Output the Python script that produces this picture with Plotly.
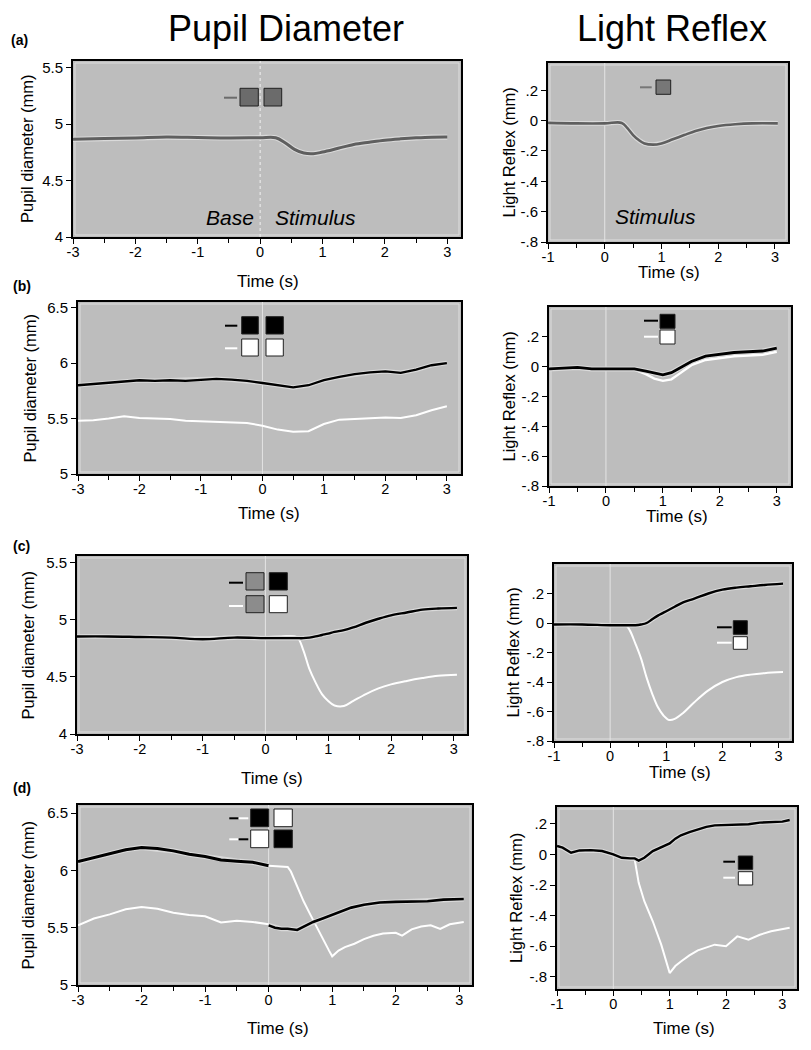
import plotly.graph_objects as go

W, H = 811, 1050
OFF = 8  # the exported page sits 8 px in from the window corner

# ---------------- data ----------------
# (a) single grey condition
a_pd_t = [-3, -2.5, -2, -1.5, -1, -0.5, 0, 0.25, 0.4, 0.55, 0.7, 0.85, 1.0, 1.25, 1.5, 1.75, 2.0, 2.25, 2.5, 2.75, 3.0]
a_pd = [4.866, 4.872, 4.878, 4.886, 4.882, 4.878, 4.88, 4.88, 4.836, 4.777, 4.744, 4.738, 4.753, 4.786, 4.82, 4.84, 4.858, 4.87, 4.879, 4.885, 4.886]
a_lr_t = [-1, -0.5, 0, 0.3, 0.4, 0.5, 0.6, 0.7, 0.85, 1.0, 1.2, 1.4, 1.6, 1.8, 2.0, 2.3, 2.6, 3.05]
a_lr = [-0.015, -0.018, -0.018, -0.015, -0.05, -0.095, -0.128, -0.15, -0.158, -0.15, -0.123, -0.095, -0.068, -0.048, -0.035, -0.024, -0.018, -0.018]

# (b) black vs white
b_pd_t = [-3, -2.75, -2.5, -2.25, -2, -1.75, -1.5, -1.25, -1, -0.75, -0.5, -0.25, 0,
          0.25, 0.5, 0.75, 1.0, 1.25, 1.5, 1.75, 2.0, 2.25, 2.5, 2.75, 3.0]
b_pd_black = [5.80, 5.81, 5.82, 5.83, 5.845, 5.84, 5.845, 5.84, 5.85, 5.858, 5.85, 5.84, 5.82,
              5.80, 5.78, 5.80, 5.845, 5.875, 5.90, 5.915, 5.925, 5.912, 5.94, 5.98, 6.0]
b_pd_white = [5.48, 5.485, 5.50, 5.52, 5.505, 5.50, 5.495, 5.48, 5.475, 5.468, 5.465, 5.46, 5.435,
              5.40, 5.38, 5.385, 5.45, 5.49, 5.495, 5.505, 5.51, 5.505, 5.53, 5.575, 5.61]
b_lr_t = [-1, -0.75, -0.5, -0.25, 0, 0.25, 0.5, 0.7, 0.85, 1.0, 1.15, 1.3, 1.5, 1.75, 2.0, 2.25, 2.5, 2.75, 3.0]
b_lr_black = [-0.015, -0.01, -0.005, -0.015, -0.015, -0.01, -0.015, -0.03, -0.045, -0.055, -0.04, -0.01,
              0.035, 0.07, 0.085, 0.095, 0.10, 0.105, 0.125]
b_lr_white = [-0.02, -0.015, -0.01, -0.02, -0.02, -0.015, -0.02, -0.05, -0.08, -0.095, -0.085, -0.045,
              0.01, 0.045, 0.06, 0.07, 0.075, 0.08, 0.10]

# (c) grey->black vs grey->white
c_pd_t = [-3, -2.5, -2, -1.5, -1, -0.5, 0, 0.25, 0.5, 0.6, 0.7, 0.8, 0.9, 1.0, 1.1, 1.25, 1.4,
          1.6, 1.8, 2.0, 2.25, 2.5, 2.75, 3.05]
c_pd_black = [4.855, 4.855, 4.85, 4.845, 4.83, 4.845, 4.84, 4.84, 4.84, 4.84, 4.845, 4.855, 4.868, 4.88,
              4.895, 4.91, 4.935, 4.975, 5.01, 5.04, 5.065, 5.09, 5.10, 5.105]
c_pd_white = [4.86, 4.86, 4.855, 4.85, 4.845, 4.855, 4.85, 4.855, 4.85, 4.74, 4.57, 4.45, 4.35, 4.29,
              4.25, 4.245, 4.29, 4.35, 4.40, 4.435, 4.465, 4.49, 4.51, 4.52]
c_lr_t = [-1, -0.5, 0, 0.28, 0.35, 0.45, 0.55, 0.65, 0.75, 0.85, 0.95, 1.05, 1.15, 1.3, 1.5, 1.75,
          2.0, 2.25, 2.5, 2.75, 3.08]
c_lr_black = [-0.01, -0.01, -0.015, -0.015, -0.015, -0.015, -0.01, 0.0, 0.025, 0.05, 0.07, 0.09, 0.11,
              0.14, 0.165, 0.2, 0.226, 0.24, 0.249, 0.258, 0.267]
c_lr_white = [-0.012, -0.012, -0.016, -0.016, -0.05, -0.14, -0.24, -0.37, -0.48, -0.57, -0.627, -0.657,
              -0.65, -0.61, -0.537, -0.457, -0.40, -0.367, -0.35, -0.34, -0.333]

# (d) black->white vs white->black
d_pd_pre_t = [-3, -2.75, -2.5, -2.25, -2, -1.75, -1.5, -1.25, -1, -0.75, -0.5, -0.25, 0]
d_pd_pre_black = [6.076, 6.11, 6.14, 6.18, 6.20, 6.19, 6.17, 6.14, 6.12, 6.09, 6.08, 6.07, 6.04]
d_pd_pre_white = [5.52, 5.58, 5.616, 5.66, 5.68, 5.665, 5.63, 5.61, 5.60, 5.545, 5.56, 5.55, 5.53]
d_pd_post_t_w = [0, 0.1, 0.2, 0.3, 0.35, 0.45, 0.55, 0.65, 0.75, 0.85, 0.95, 1.0, 1.1, 1.2, 1.35, 1.5,
                 1.65, 1.8, 2.0, 2.1, 2.25, 2.4, 2.55, 2.7, 2.85, 3.07]
d_pd_post_white = [6.04, 6.035, 6.035, 6.03, 5.99, 5.86, 5.73, 5.62, 5.51, 5.41, 5.30, 5.25, 5.30, 5.33,
                   5.36, 5.40, 5.43, 5.45, 5.455, 5.43, 5.485, 5.51, 5.52, 5.49, 5.53, 5.55]
d_pd_post_t_b = [0, 0.1, 0.2, 0.3, 0.45, 0.55, 0.7, 0.85, 1.0, 1.15, 1.3, 1.5, 1.75, 2.0, 2.25, 2.5, 2.75, 3.07]
d_pd_post_black = [5.52, 5.50, 5.49, 5.49, 5.48, 5.51, 5.55, 5.58, 5.61, 5.645, 5.675, 5.70, 5.72, 5.725,
                   5.73, 5.73, 5.745, 5.75]
d_lr_t = [-1, -0.9, -0.75, -0.6, -0.4, -0.2, 0, 0.15, 0.3, 0.38, 0.45, 0.55, 0.7, 0.85, 1.0, 1.1, 1.2,
          1.35, 1.5, 1.65, 1.8, 2.0, 2.2, 2.4, 2.6, 2.8, 3.0, 3.13]
d_lr_black = [0.055, 0.044, 0.011, 0.026, 0.028, 0.022, 0.0, -0.022, -0.026, -0.026, -0.04, -0.022, 0.022,
              0.048, 0.072, 0.103, 0.125, 0.146, 0.164, 0.18, 0.19, 0.192, 0.195, 0.197, 0.208, 0.212,
              0.214, 0.225]
d_lr_white = [0.048, 0.037, 0.004, 0.019, 0.021, 0.015, -0.008, -0.028, -0.032, -0.035, -0.186, -0.306,
              -0.437, -0.59, -0.776, -0.73, -0.70, -0.66, -0.627, -0.607, -0.59, -0.60, -0.536, -0.557,
              -0.525, -0.503, -0.49, -0.48]

# tick labels (plain hyphen minus as in the figure)
left_xticks = [-3, -2, -1, 0, 1, 2, 3]
left_xticktext = ["-3", "-2", "-1", "0", "1", "2", "3"]
right_xticks = [-1, 0, 1, 2, 3]
right_xticktext = ["-1", "0", "1", "2", "3"]
pd_ticks_low = [4, 4.5, 5, 5.5]
pd_ticks_high = [5, 5.5, 6, 6.5]
lr_ticks = [-0.8, -0.6, -0.4, -0.2, 0, 0.2]
lr_ticktext = ["-.8", "-.6", "-.4", "-.2", "0", ".2"]

# ---------------- layout of the eight panels (pixel boxes) ----------------
L = dict(xt=left_xticks, xtt=left_xticktext)
R = dict(xt=right_xticks, xtt=right_xticktext, yt=lr_ticks, ytt=lr_ticktext)
panels = [
    dict(box=(73, 61, 461, 237), xr=[-3, 3.22], yr=[4, 5.56], yt=pd_ticks_low, ytt=None, **L),
    dict(box=(548, 63, 788, 242), xr=[-1, 3.23], yr=[-0.8, 0.38], **R),
    dict(box=(78, 302, 461, 474), xr=[-3, 3.23], yr=[5, 6.55], yt=pd_ticks_high, ytt=None, **L),
    dict(box=(549, 307, 791, 486), xr=[-1, 3.25], yr=[-0.8, 0.4], **R),
    dict(box=(77, 556, 467, 734), xr=[-3, 3.21], yr=[4, 5.56], yt=pd_ticks_low, ytt=None, **L),
    dict(box=(554, 564, 792, 741), xr=[-1, 3.24], yr=[-0.8, 0.4], **R),
    dict(box=(78, 805, 472, 985), xr=[-3, 3.2], yr=[5, 6.57], yt=pd_ticks_high, ytt=None, **L),
    dict(box=(557, 807, 797, 989), xr=[-1, 3.26], yr=[-0.88, 0.31], **R),
]

FONT = "Liberation Sans, Arial, Helvetica, sans-serif"
BG = "#bdbdbd"
TICKFONT = dict(size=15, family=FONT, color="black")
XTICKFONT = dict(size=14.5, family=FONT, color="black")


def ax_names(i):
    n = "" if i == 0 else str(i + 1)
    return "x" + n, "y" + n


def px_x(x):
    return (x - OFF) / W


def px_y(y):
    return 1 - (y - OFF) / H


fig = go.Figure()


def add_line(i, t, v, color, width, halo=None, shape="linear"):
    xa, ya = ax_names(i)
    if halo:
        fig.add_trace(go.Scatter(x=t, y=v, mode="lines", xaxis=xa, yaxis=ya, hoverinfo="skip",
                                 line=dict(color=halo, width=width + 2.2, shape=shape)))
    fig.add_trace(go.Scatter(x=t, y=v, mode="lines", xaxis=xa, yaxis=ya,
                             line=dict(color=color, width=width, shape=shape)))


HALO = "#dadada"
add_line(0, a_pd_t, a_pd, "#5f5f5f", 3, HALO, "spline")
add_line(1, a_lr_t, a_lr, "#5f5f5f", 2.6, HALO, "spline")
add_line(2, b_pd_t, b_pd_white, "white", 2)
add_line(2, b_pd_t, b_pd_black, "black", 2.3, HALO)
add_line(3, b_lr_t, b_lr_white, "white", 2.4)
add_line(3, b_lr_t, b_lr_black, "black", 2.8, HALO)
add_line(4, c_pd_t, c_pd_white, "white", 2, None, "spline")
add_line(4, c_pd_t, c_pd_black, "black", 2.4, HALO, "spline")
add_line(5, c_lr_t, c_lr_white, "white", 2, None, "spline")
add_line(5, c_lr_t, c_lr_black, "black", 2.4, HALO, "spline")
add_line(6, d_pd_pre_t, d_pd_pre_white, "white", 2)
add_line(6, d_pd_pre_t, d_pd_pre_black, "black", 3, HALO)
add_line(6, d_pd_post_t_w, d_pd_post_white, "white", 2)
add_line(6, d_pd_post_t_b, d_pd_post_black, "black", 2.6, HALO)
add_line(7, d_lr_t, d_lr_white, "white", 2)
add_line(7, d_lr_t, d_lr_black, "black", 2.4, HALO)

layout = dict(width=W, height=H, margin=dict(l=0, r=0, t=0, b=0, pad=0, autoexpand=False),
              paper_bgcolor="white", plot_bgcolor=BG, showlegend=False,
              font=dict(family=FONT, color="black"))
shapes = []
annotations = []

for i, p in enumerate(panels):
    xa, ya = ax_names(i)
    x0, y0, x1, y1 = p["box"]
    yaxis = dict(domain=[px_y(y1), px_y(y0)], range=p["yr"], anchor=xa, tickmode="array",
                 tickvals=p["yt"], ticks="outside", ticklen=5, tickcolor="black", automargin=False,
                 showline=True, mirror=True, linecolor="black", linewidth=2,
                 showgrid=False, zeroline=False, tickfont=TICKFONT)
    if p["ytt"]:
        yaxis["ticktext"] = p["ytt"]
    layout["xaxis" + xa[1:]] = dict(domain=[px_x(x0), px_x(x1)], range=p["xr"], anchor=ya,
                                    tickmode="array", tickvals=p["xt"], ticks="outside", ticklen=5,
                                    tickcolor="black", automargin=False, showticklabels=False,
                                    minor=dict(dtick=0.5, tick0=0, ticks="outside", ticklen=4,
                                               tickcolor="black"),
                                    showline=True, mirror=True, linecolor="black", linewidth=2,
                                    showgrid=False, zeroline=False)
    layout["yaxis" + ya[1:]] = yaxis
    # companion axis carrying the time labels, set tight under the frame
    layout["xaxis%d" % (i + 9)] = dict(overlaying=xa, anchor="free", position=px_y(y1 + 4),
                                       domain=[px_x(x0), px_x(x1)], range=p["xr"], side="bottom",
                                       tickmode="array", tickvals=p["xt"], ticktext=p["xtt"], ticks="",
                                       automargin=False, showline=False, showgrid=False, zeroline=False,
                                       tickfont=XTICKFONT)
    fig.add_trace(go.Scatter(x=[p["xr"][0]], y=[p["yr"][0]], mode="markers", xaxis="x%d" % (i + 9), yaxis=ya,
                             marker=dict(opacity=0), hoverinfo="skip"))
    # thin light rim inside the frame
    shapes.append(dict(type="rect", xref="paper", yref="paper", x0=px_x(x0 + 2), x1=px_x(x1 - 2),
                       y0=px_y(y1 - 2), y1=px_y(y0 + 2), line=dict(color="#dedede", width=1),
                       layer="below"))
    # stimulus onset line at t = 0
    shapes.append(dict(type="line", xref=xa, yref=ya + " domain", x0=0, x1=0, y0=0, y1=1,
                       line=dict(color="#f2f2f2" if i == 0 else "#e4e4e4", width=1,
                                 dash="dot" if i == 0 else "solid"), layer="below"))

# legend icons (pixel positions)
GREY_A = "#6b6b6b"
GREY_C = "#8c8c8c"
icon_lines = [
    (224, 237, 97.7, GREY_A), (640, 651.7, 87.3, "#777777"),
    (225, 237.3, 325.7, "black"), (225, 237.3, 348.3, "white"),
    (644, 658, 320.7, "black"), (644, 658, 336.7, "white"),
    (229, 243, 582.7, "black"), (229, 243, 606, "white"),
    (717, 731.7, 627.3, "black"), (717, 731.7, 642.7, "white"),
    (229.3, 238.6, 818.3, "black"), (238.6, 248.3, 818.3, "white"),
    (229.3, 238.6, 839.3, "white"), (238.6, 248.3, 839.3, "black"),
    (723.3, 735, 861.7, "black"), (723.3, 735, 877.7, "white"),
]
icon_boxes = [
    (240, 88.3, 258.3, 106, GREY_A), (264, 88.3, 281.7, 106, GREY_A),
    (656, 80, 670.7, 94.3, "#777777"),
    (241.7, 316.7, 258.3, 334, "black"), (266, 316.7, 283.3, 334, "black"),
    (241.7, 339, 258.3, 356, "white"), (266, 339, 283.3, 356, "white"),
    (660, 314.3, 675, 328.3, "black"), (660, 330, 675, 344, "white"),
    (246, 572.7, 264, 590, GREY_C), (269.3, 572.7, 287.3, 590, "black"),
    (246, 595.7, 264, 612.7, GREY_C), (269.3, 595.7, 287.3, 612.7, "white"),
    (733.3, 620.7, 747.3, 634.3, "black"), (733.3, 636.7, 747.3, 649.3, "white"),
    (250.7, 809, 268.7, 826.7, "black"), (274, 809, 292.3, 826.7, "white"),
    (250.7, 830, 268.7, 847.7, "white"), (274, 830, 292.3, 847.7, "black"),
    (738.3, 856, 752.7, 869.3, "black"), (738.3, 871.7, 752.7, 885, "white"),
]
for xa0, xa1, yy, c in icon_lines:
    shapes.append(dict(type="line", xref="paper", yref="paper", x0=px_x(xa0), x1=px_x(xa1),
                       y0=px_y(yy), y1=px_y(yy), line=dict(color=c, width=2)))
for bx0, by0, bx1, by1, c in icon_boxes:
    shapes.append(dict(type="rect", xref="paper", yref="paper", x0=px_x(bx0), x1=px_x(bx1),
                       y0=px_y(by1), y1=px_y(by0), fillcolor=c, line=dict(color="#202020", width=1)))


def note(text, x, y, size, **kw):
    annotations.append(dict(text=text, x=px_x(x), y=px_y(y), xref="paper", yref="paper",
                            showarrow=False, xanchor="center", yanchor="middle",
                            font=dict(size=size, family=FONT, color="black"), **kw))


note("Pupil Diameter", 286, 28, 36)
note("Light Reflex", 672, 28, 36)
for lab, (lx, ly) in zip(["(a)", "(b)", "(c)", "(d)"], [(19, 40), (22, 286), (21, 546), (22, 788)]):
    note("<b>%s</b>" % lab, lx, ly, 14)

x_titles = [(268, 281), (669, 272.5), (269, 514), (677, 516), (272, 778), (680, 772), (278, 1028), (684, 1028)]
y_title_x = [27, 508, 29.5, 508, 27.5, 512, 27.5, 516]
for i, p in enumerate(panels):
    x0, y0, x1, y1 = p["box"]
    note("Time (s)", x_titles[i][0], x_titles[i][1], 17)
    note("Pupil diameter (mm)" if i % 2 == 0 else "Light Reflex (mm)", y_title_x[i], (y0 + y1) / 2, 16.5,
         textangle=-90)

note("<i>Base</i>", 230, 218, 21)
note("<i>Stimulus</i>", 315, 218, 21)
note("<i>Stimulus</i>", 655, 216.7, 21)

layout["shapes"] = shapes
layout["annotations"] = annotations
fig.update_layout(**layout)
fig.write_html("out.html")
